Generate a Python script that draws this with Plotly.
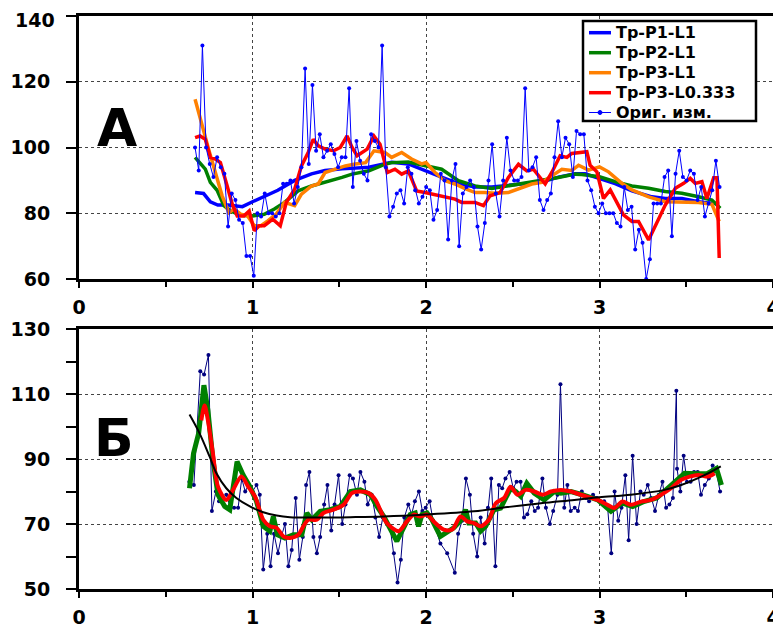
import numpy as np
import plotly.graph_objects as go

# ---------------- Panel A data ----------------
a_raw_y = [100, 93, 131, 100, 95, 91, 97, 94, 92, 76,
           86, 84, 78, 77, 67, 67, 61, 80, 79, 86,
           80, 80, 79, 80, 89, 89, 90, 83, 88, 94,
           124, 95, 119, 99, 104, 97, 99, 101, 98, 94,
           97, 97, 118, 88, 102, 96, 92, 90, 104, 102,
           100, 131,
           94, 79, 82, 86, 87, 83, 94, 92, 87, 83,
           85, 88, 87, 78, 81, 92, 90, 72, 90, 95,
           70, 86, 88, 90, 88, 76, 69, 77, 90, 101,
           86, 79, 90, 103, 93, 90, 90, 91, 118, 93,
           94, 97, 84, 81, 84, 86, 97, 108, 97, 103,
           101,
           91, 105, 104, 104, 90, 87, 82, 80, 83, 80,
           80, 80, 77, 76, 88, 81, 82, 69, 75, 71,
           60, 66, 83, 83, 83, 91, 93, 73, 92, 99,
           91, 90, 93, 92, 84, 88, 79, 83, 87, 96,
           88]
a_raw_x = np.linspace(0.669, 3.692, len(a_raw_y))

a_yticks = [60, 80, 100, 120, 140]

p1_x = [0.669, 0.718, 0.757, 0.80, 0.86, 0.942, 1.0, 1.068, 1.146, 1.243, 1.340, 1.418, 1.516,
        1.671, 1.802, 1.898, 2.0, 2.09, 2.187, 2.283, 2.379, 2.475, 2.571, 2.667, 2.763, 2.86,
        2.917, 3.0, 3.09, 3.187, 3.302, 3.379, 3.475, 3.571, 3.648, 3.69]
p1_y = [86.3, 86, 83.5, 82.5, 82.5, 82, 83.5, 85, 87, 90, 92, 93, 93.5,
        94, 95.5, 95, 93, 91, 89, 88, 88, 88.5, 89, 89.5, 91, 92,
        92, 90.5, 89, 86.8, 85, 84.5, 84.5, 83.5, 83, 83]

p2_x = [0.669, 0.728, 0.757, 0.796, 0.835, 0.874, 0.932, 1.0, 1.068, 1.126, 1.185, 1.263, 1.340,
        1.418, 1.516, 1.574, 1.671, 1.768, 1.802, 1.898, 2.0, 2.09, 2.187, 2.283, 2.379, 2.475,
        2.571, 2.667, 2.763, 2.86, 2.898, 3.0, 3.09, 3.187, 3.283, 3.379, 3.475, 3.571, 3.648, 3.696]
p2_y = [97, 93.4, 89.4, 87, 82.3, 80.7, 79.4, 79.2, 79.7, 81.3, 83.3, 86.8, 88.3,
        89.4, 90.9, 91.9, 92.9, 95, 95.4, 95.6, 94.4, 93.4, 89.9, 88.3, 87.5, 88.3,
        89.2, 89.9, 90.9, 91.9, 91.8, 91.1, 89.6, 88.3, 87.6, 86.6, 86.1, 85, 84, 81.5]

p3_x = [0.669, 0.708, 0.747, 0.786, 0.825, 0.864, 0.893, 0.932, 0.971, 1.010, 1.049, 1.088, 1.136,
        1.185, 1.243, 1.282, 1.340, 1.379, 1.418, 1.477, 1.535, 1.593, 1.652, 1.700, 1.763, 1.802,
        1.860, 1.917, 1.975, 2.0, 2.052, 2.110, 2.167, 2.225, 2.283, 2.340, 2.398, 2.475, 2.533,
        2.610, 2.667, 2.725, 2.783, 2.840, 2.879, 2.937, 3.0, 3.052, 3.129, 3.187, 3.283, 3.379,
        3.475, 3.571, 3.648, 3.690]
p3_y = [114.7, 106.6, 99.5, 92.4, 85.3, 80.2, 81.3, 79.7, 79.2, 76.2, 76.2, 77.7, 79.7,
        83.3, 82.3, 85.8, 88.3, 88.9, 92.4, 93.4, 94.4, 95, 95.4, 99, 98.5, 97,
        98.5, 96.5, 95, 95.4, 92.4, 89.9, 88.9, 87.5, 86.3, 86.3, 86.1, 86.3, 87.5,
        88.9, 89.4, 91.4, 93.4, 93, 94.6, 93.1, 94.1, 92.6, 89.1, 87.1, 85, 83.5,
        83.5, 83.3, 82.7, 77.5]

p3l_x = [0.669, 0.698, 0.728, 0.757, 0.786, 0.815, 0.854, 0.883, 0.912, 0.951, 0.981, 1.010, 1.039,
         1.068, 1.117, 1.160, 1.195, 1.243, 1.282, 1.321, 1.350, 1.379, 1.418, 1.467, 1.506, 1.545,
         1.574, 1.603, 1.661, 1.700, 1.735, 1.777, 1.821, 1.860, 1.898, 1.946, 1.994, 2.042, 2.090,
         2.167, 2.206, 2.283, 2.331, 2.369, 2.427, 2.475, 2.533, 2.581, 2.619, 2.648, 2.687, 2.725,
         2.773, 2.812, 2.840, 2.927, 2.946, 2.985, 3.023, 3.062, 3.100, 3.138, 3.187, 3.225, 3.283,
         3.379, 3.437, 3.485, 3.523, 3.552, 3.590, 3.619, 3.658, 3.677, 3.690]
p3l_y = [103, 103.5, 102.5, 97, 96.5, 95.4, 88.3, 82.8, 79.2, 79.2, 80.7, 74.7, 76.2,
         76.2, 78.2, 76.2, 83.3, 87.3, 94.4, 98.5, 102.5, 100.5, 99.5, 99, 100, 103.5,
         100, 97.5, 99.5, 103.5, 101, 92.4, 93.4, 91.9, 92.9, 86.8, 86.3, 85.8, 85.3,
         84.3, 83.3, 83.3, 82.3, 85.3, 86.3, 90.9, 94.9, 92.9, 93.4, 91.4, 88.9, 92.4,
         97.5, 97, 98.2, 98.7, 94.6, 92.6, 84.5, 87.1, 83, 79.5, 77.5, 77.5, 71.9,
         82.5, 87.6, 89.1, 90.6, 89.1, 89.6, 84.5, 90.8, 90.8, 66.4]

# ---------------- Panel Б data ----------------
b_raw_x = [0.636, 0.662, 0.699, 0.721, 0.746, 0.766, 0.789, 0.807, 0.830, 0.849,
           0.873, 0.894, 0.917, 0.938, 0.958, 0.977, 1.000, 1.023, 1.042, 1.062,
           1.085, 1.104, 1.124, 1.147, 1.166, 1.187, 1.207, 1.226, 1.249, 1.270,
           1.290, 1.309, 1.328, 1.351, 1.371, 1.390, 1.413, 1.432, 1.454, 1.473,
           1.496, 1.517, 1.536, 1.560, 1.579, 1.602, 1.622, 1.645, 1.664, 1.687,
           1.708, 1.730, 1.751, 1.774, 1.793, 1.815, 1.836, 1.855, 1.875, 1.898,
           1.917, 1.936, 1.959, 1.979, 1.998, 2.021, 2.041, 2.083, 2.122, 2.166,
           2.185, 2.208, 2.230, 2.253, 2.272, 2.295, 2.315, 2.338, 2.357, 2.376,
           2.400, 2.420, 2.439, 2.458, 2.482, 2.503, 2.522, 2.545, 2.565, 2.584,
           2.607, 2.627, 2.646, 2.671, 2.691, 2.714, 2.733, 2.758, 2.775, 2.797,
           2.815, 2.834, 2.857, 2.876, 2.898, 2.921, 2.940, 2.963, 2.985, 3.006,
           3.027, 3.047, 3.068, 3.087, 3.108, 3.127, 3.149, 3.168, 3.191, 3.214,
           3.236, 3.255, 3.278, 3.297, 3.320, 3.342, 3.363, 3.384, 3.403, 3.423,
           3.443, 3.447, 3.466, 3.485, 3.504, 3.525, 3.545, 3.566, 3.585, 3.607,
           3.630, 3.652, 3.670, 3.695]
b_raw_y = [83, 82, 117, 116, 122, 74, 80, 77, 78, 79,
           75, 75, 75, 84, 80, 82, 80, 82, 79, 56,
           67, 57, 67, 61, 66, 70, 57, 62, 78, 59,
           66, 82, 86, 66, 61, 66, 76, 82, 68, 76,
           85, 70, 76, 85, 84, 79, 86, 83, 76, 79,
           72, 66, 72, 70, 69, 61, 52, 59, 72, 76,
           73, 77, 80, 74, 75, 77, 71, 64, 61, 55,
           67, 71, 84, 79, 67, 60, 72, 64, 75, 84,
           57, 82, 81, 84, 86, 81, 83, 83, 72, 73,
           77, 74, 75, 84, 75, 70, 74, 79, 113, 75,
           82, 74, 75, 74, 80, 78, 77, 79, 78, 77,
           77, 75, 61, 80, 71, 75, 85, 65, 91, 70,
           80, 79, 82, 78, 74, 79, 83, 75, 76, 78,
           111, 87, 80, 91, 83, 83, 86, 86, 79, 82,
           84, 88, 87, 80]

bg_x = [0.637, 0.660, 0.690, 0.720, 0.743, 0.772, 0.801, 0.840, 0.869, 0.911, 0.946, 0.985, 1.023,
        1.062, 1.100, 1.120, 1.143, 1.187, 1.236, 1.284, 1.313, 1.342, 1.390, 1.448, 1.506, 1.564,
        1.622, 1.680, 1.718, 1.757, 1.832, 1.871, 1.909, 1.938, 1.957, 1.977, 2.006, 2.035, 2.083,
        2.160, 2.203, 2.228, 2.247, 2.286, 2.315, 2.344, 2.392, 2.430, 2.488, 2.517, 2.546, 2.581,
        2.624, 2.681, 2.739, 2.778, 2.836, 2.900, 2.990, 3.066, 3.130, 3.191, 3.260, 3.330, 3.380,
        3.432, 3.490, 3.560, 3.620, 3.674, 3.703]
bg_y = [81, 91.7, 98, 112.7, 105, 89.7, 79, 75.4, 74.4, 89.2, 85.1, 81.5, 77,
        69.3, 67.8, 72.3, 66.7, 65.7, 66.7, 66.7, 73.4, 71.3, 73.9, 74.4, 75.4, 80,
        80.5, 79, 75.4, 72.3, 64.7, 68.8, 72.9, 73.4, 69.3, 72.9, 73.4, 71.3, 66.2,
        68.8, 71.3, 74.4, 70.3, 70.3, 67.8, 69.3, 74.4, 74.9, 81, 80, 78.5, 82.5,
        79.5, 77.4, 80, 79.5, 80, 79, 77.4, 73.9, 76.5, 75.4, 77, 78, 80.5,
        83, 85.6, 85.5, 85.5, 87.1, 82]

br_x = [0.705, 0.724, 0.743, 0.772, 0.801, 0.849, 0.888, 0.936, 0.975, 1.014, 1.062, 1.100, 1.139,
        1.178, 1.216, 1.264, 1.293, 1.322, 1.371, 1.409, 1.467, 1.525, 1.573, 1.622, 1.670, 1.709,
        1.774, 1.842, 1.890, 1.929, 1.967, 2.006, 2.044, 2.102, 2.151, 2.199, 2.237, 2.276, 2.315,
        2.363, 2.402, 2.450, 2.488, 2.527, 2.575, 2.624, 2.672, 2.720, 2.778, 2.836, 2.892, 2.988,
        3.046, 3.085, 3.133, 3.181, 3.239, 3.297, 3.355, 3.413, 3.471, 3.519, 3.568, 3.626, 3.664]
br_y = [101.9, 106.5, 101.9, 91.7, 81.5, 77.4, 80.5, 84.6, 81.5, 78.5, 71.3, 69.3, 68.8,
        66.2, 65.7, 66.7, 69.3, 71.3, 71.3, 73.4, 74.4, 75.9, 79.5, 80, 79.5, 77.4,
        70.3, 67.8, 70.8, 72.9, 72.3, 72.9, 70.8, 68.3, 68.3, 72.3, 70.8, 70.3, 69.3,
        71.3, 76.4, 78, 81.5, 79, 80.5, 80, 79, 80, 80.5, 80, 79, 77.4,
        75.9, 74.9, 76.9, 75.9, 76.9, 77.4, 79, 81, 83.6, 84.6, 85.1, 84.6, 85.6]

bk_x = [0.637, 0.695, 0.753, 0.792, 0.849, 0.907, 0.985, 1.062, 1.139, 1.216, 1.371, 1.564,
        1.757, 2.0, 2.276, 2.469, 2.662, 2.855, 3.0, 3.181, 3.375, 3.471, 3.568, 3.645, 3.699]
bk_y = [103.7, 97.9, 90.7, 85.6, 81, 78, 75.4, 73.6, 72.6, 72.1, 72, 72.1,
        72.3, 72.9, 73.9, 75.2, 76.4, 77.4, 78.2, 79, 80.5, 82, 84.1, 86.1, 87.7]

legend_names = ["Tp-P1-L1", "Tp-P2-L1", "Tp-P3-L1", "Tp-P3-L0.333", "Ориг. изм."]
legend_colors = ["#0000FF", "#008000", "#FF8000", "#FF0000", "#0000FF"]

FONT = "DejaVu Sans, Liberation Sans, Arial, sans-serif"

# page geometry (the browser adds an 8px body margin)
W, H = 773, 620
ML, MR, MT, MB = 71, 8, 8, 39
PW, PH = W - ML - MR, H - MT - MB


def px_x(sx):  # screen px -> paper x
    return (sx - 8 - ML) / PW


def px_y(sy):  # screen px -> paper y
    return 1 - (sy - 8 - MT) / PH


fig = go.Figure()

# Panel A traces
fig.add_trace(go.Scatter(x=p1_x, y=p1_y, mode="lines", name=legend_names[0],
                         line=dict(color=legend_colors[0], width=3.5), xaxis="x", yaxis="y"))
fig.add_trace(go.Scatter(x=p2_x, y=p2_y, mode="lines", name=legend_names[1],
                         line=dict(color=legend_colors[1], width=3.5), xaxis="x", yaxis="y"))
fig.add_trace(go.Scatter(x=p3_x, y=p3_y, mode="lines", name=legend_names[2],
                         line=dict(color=legend_colors[2], width=3.5), xaxis="x", yaxis="y"))
fig.add_trace(go.Scatter(x=p3l_x, y=p3l_y, mode="lines", name=legend_names[3],
                         line=dict(color=legend_colors[3], width=3.5), xaxis="x", yaxis="y"))
fig.add_trace(go.Scatter(x=a_raw_x, y=a_raw_y, mode="lines+markers", name=legend_names[4],
                         line=dict(color="#0000FF", width=1),
                         marker=dict(color="#0000FF", size=4), xaxis="x", yaxis="y"))

# Panel Б traces
fig.add_trace(go.Scatter(x=b_raw_x, y=b_raw_y, mode="lines+markers",
                         line=dict(color="#000080", width=1),
                         marker=dict(color="#000080", size=4), xaxis="x2", yaxis="y2"))
fig.add_trace(go.Scatter(x=bg_x, y=bg_y, mode="lines",
                         line=dict(color="#008000", width=5), xaxis="x2", yaxis="y2"))
fig.add_trace(go.Scatter(x=br_x, y=br_y, mode="lines",
                         line=dict(color="#FF0000", width=4, shape="spline", smoothing=0.8),
                         xaxis="x2", yaxis="y2"))
fig.add_trace(go.Scatter(x=bk_x, y=bk_y, mode="lines",
                         line=dict(color="#000000", width=2, shape="spline", smoothing=1.0),
                         xaxis="x2", yaxis="y2"))

tickfont = dict(family=FONT, size=19, color="black", weight="bold")

xcommon = dict(range=[0, 4], tick0=0, dtick=1, ticks="outside", ticklen=6, tickwidth=2,
               tickcolor="black", showgrid=True, gridcolor="#444", griddash="dot", gridwidth=1,
               showline=True, linewidth=3, linecolor="black", mirror=True, zeroline=False,
               tickfont=tickfont, automargin=False, ticklabelstandoff=3,
               ticklabeloverflow="allow",
               minor=dict(dtick=0.5, tick0=0, ticks="outside", ticklen=5, tickwidth=2,
                          tickcolor="black", showgrid=False))

ycommon = dict(ticks="outside", ticklen=10, tickwidth=2, tickcolor="black",
               showgrid=True, gridcolor="#444", griddash="dot", gridwidth=1,
               showline=True, linewidth=3, linecolor="black", mirror=True, zeroline=False,
               tickfont=tickfont, automargin=False, ticklabelstandoff=12,
               ticklabeloverflow="allow")

# hand-drawn legend box (matches the compact original legend)
legend_rows = [32.7, 52.7, 72.7, 92.7, 112.5]
shapes = [dict(type="rect", xref="paper", yref="paper",
               x0=px_x(583), x1=px_x(756), y0=px_y(121), y1=px_y(21),
               line=dict(color="black", width=2.5), fillcolor="white", layer="above")]
annotations = []
for i, (name, col, ry) in enumerate(zip(legend_names, legend_colors, legend_rows)):
    wid = 1 if i == 4 else 3.5
    shapes.append(dict(type="line", xref="paper", yref="paper",
                       x0=px_x(589), x1=px_x(611), y0=px_y(ry), y1=px_y(ry),
                       line=dict(color=col, width=wid), layer="above"))
    if i == 4:
        shapes.append(dict(type="circle", xref="paper", yref="paper",
                           x0=px_x(598), x1=px_x(602), y0=px_y(ry + 2), y1=px_y(ry - 2),
                           line=dict(color=col, width=1), fillcolor=col, layer="above"))
    annotations.append(dict(x=px_x(614), y=px_y(ry), xref="paper", yref="paper",
                            text=name, showarrow=False, xanchor="left", yanchor="middle",
                            font=dict(family=FONT, size=16, color="black", weight="bold")))

# the top-most tick label sits at the page edge: place it as text just inside the page
annotations.append(dict(x=px_x(56), y=px_y(8), xref="paper", yref="paper",
                        text=str(a_yticks[-1]), showarrow=False, xanchor="right", yanchor="top",
                        borderpad=0, font=tickfont))

annotations += [
    dict(x=0.22, y=106, xref="x", yref="y", text="А", showarrow=False,
         font=dict(family=FONT, size=52, color="black", weight="bold")),
    dict(x=0.203, y=96.5, xref="x2", yref="y2", text="Б", showarrow=False,
         font=dict(family=FONT, size=52, color="black", weight="bold")),
]

top_dom = [px_y(279), 1.0]
bot_dom = [0.0, px_y(329)]

fig.update_layout(
    width=W, height=H,
    margin=dict(l=ML, r=MR, t=MT, b=MB),
    paper_bgcolor="white", plot_bgcolor="white",
    font=dict(family=FONT, color="black"),
    showlegend=False,
    xaxis=dict(domain=[0, 1], anchor="y", **xcommon),
    yaxis=dict(domain=top_dom, anchor="x", range=[60, 140],
               tickvals=a_yticks, ticktext=[str(v) for v in a_yticks[:-1]] + [""],
               **ycommon),
    xaxis2=dict(domain=[0, 1], anchor="y2", **xcommon),
    yaxis2=dict(domain=bot_dom, anchor="x2", range=[50, 130], tick0=50, dtick=20,
                minor=dict(dtick=10, tick0=50, ticks="outside", ticklen=10, tickwidth=2,
                           tickcolor="black", showgrid=False),
                **ycommon),
    shapes=shapes,
    annotations=annotations,
)

fig.write_html("out.html")
